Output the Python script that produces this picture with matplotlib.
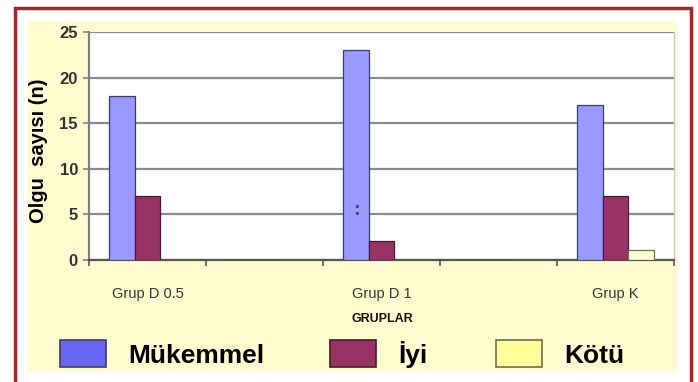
import matplotlib
matplotlib.use("Agg")
import matplotlib.pyplot as plt
from matplotlib.patches import Rectangle, Patch
from matplotlib import font_manager
import numpy as np

# Data
categories = ["Grup D 0.5", "", "Grup D 1", "", "Grup K"]
series_names = ["Mükemmel", "İyi", "Kötü"]
mukemmel = [18, 0, 23, 0, 17]
iyi = [7, 0, 2, 0, 7]
kotu = [0, 0, 0, 0, 1]
y_ticks = [0, 5, 10, 15, 20, 25]

bar_colors = ["#9999FF", "#993366", "#FFFFCC"]
legend_colors = ["#6666F2", "#993366", "#FFFF99"]
edge_colors = ["#3B3B6E", "#4A1830", "#6E6E50"]

names = {f.name for f in font_manager.fontManager.ttflist}
narrow = "Liberation Sans Narrow" if "Liberation Sans Narrow" in names else "Liberation Sans"

W, H = 698, 382
fig = plt.figure(figsize=(W / 100, H / 100), dpi=100)
fig.patch.set_facecolor("white")

# Outer dark red frame and pale yellow chart area
fig.add_artist(Rectangle((14.5 / W, -0.05), (691 - 14.5) / W, 1.05 - 7.5 / H,
                         transform=fig.transFigure, facecolor="none",
                         edgecolor="#A3262B", linewidth=2.5, zorder=-2))
fig.add_artist(Rectangle((28 / W, 1 - 372 / H), 650 / W, 351 / H,
                         transform=fig.transFigure, facecolor="#FFFBCF",
                         edgecolor="none", zorder=-1))

ax = fig.add_axes([89 / W, 1 - 259.5 / H, (674 - 89) / W, (259.5 - 32.3) / H])
ax.set_facecolor("white")

x = np.arange(len(categories))
w = 0.218
series = [mukemmel, iyi, kotu]
for i, vals in enumerate(series):
    ax.bar(x + (i - 1) * w, vals, width=w, color=bar_colors[i],
           edgecolor=edge_colors[i], linewidth=0.9, zorder=3)

ax.set_xlim(-0.5, len(categories) - 0.5)
ax.set_ylim(0, 25)
ax.set_yticks(y_ticks)
ax.yaxis.grid(True, color="#8A8A8A", linewidth=1.6, zorder=1)
ax.set_axisbelow(True)

ax.set_xticks(x)
ax.set_xticklabels(categories, fontsize=10.5, family=narrow, color="#333333")
ax.set_xticks(np.arange(len(categories) + 1) - 0.5, minor=True)
ax.tick_params(axis="x", which="major", length=0, pad=20)
ax.tick_params(axis="x", which="minor", length=4, width=1.2, color="#555555",
               direction="out")
ax.tick_params(axis="y", length=4, width=1.2, color="#808080", pad=4,
               labelsize=12, labelcolor="#333333")
for lbl in ax.get_yticklabels():
    lbl.set_family(narrow)
    lbl.set_fontweight("bold")

ax.spines["top"].set_visible(False)
ax.spines["left"].set_color("#808080")
ax.spines["left"].set_linewidth(1.6)
ax.spines["bottom"].set_color("#555555")
ax.spines["bottom"].set_linewidth(1.6)
ax.spines["right"].set_color("#C8C8C8")
ax.spines["right"].set_linewidth(1.0)

fig.text(39 / W, 1 - 151 / H, "Olgu  sayısı (n)", rotation=90, ha="center",
         va="center", fontsize=14.5, fontweight="bold", family="Liberation Sans")
fig.text(382 / W, 1 - 319 / H, "GRUPLAR", ha="center", va="center",
         fontsize=9, fontweight="bold", family=narrow, color="#111111")

# Small mark on the Grup D 1 bar
ax.text(x[2] - w, 5.5, ":", ha="center", va="center", fontsize=12,
        fontweight="bold", color="#444466", zorder=4)

# Legend entries along the bottom
legend_x = [60, 330, 496]
for name, col, ec, lx in zip(series_names, legend_colors, edge_colors, legend_x):
    fig.legend(handles=[Patch(facecolor=col, edgecolor=ec, linewidth=1.2)],
               labels=[name], loc="center left",
               bbox_to_anchor=(lx / W, 1 - 354 / H),
               frameon=False, borderpad=0, borderaxespad=0,
               handlelength=46 / 26.4, handleheight=32 / 26.4,
               handletextpad=0.85,
               prop={"family": "Liberation Sans", "weight": "bold", "size": 19})

fig.savefig("out.png", dpi=100)
